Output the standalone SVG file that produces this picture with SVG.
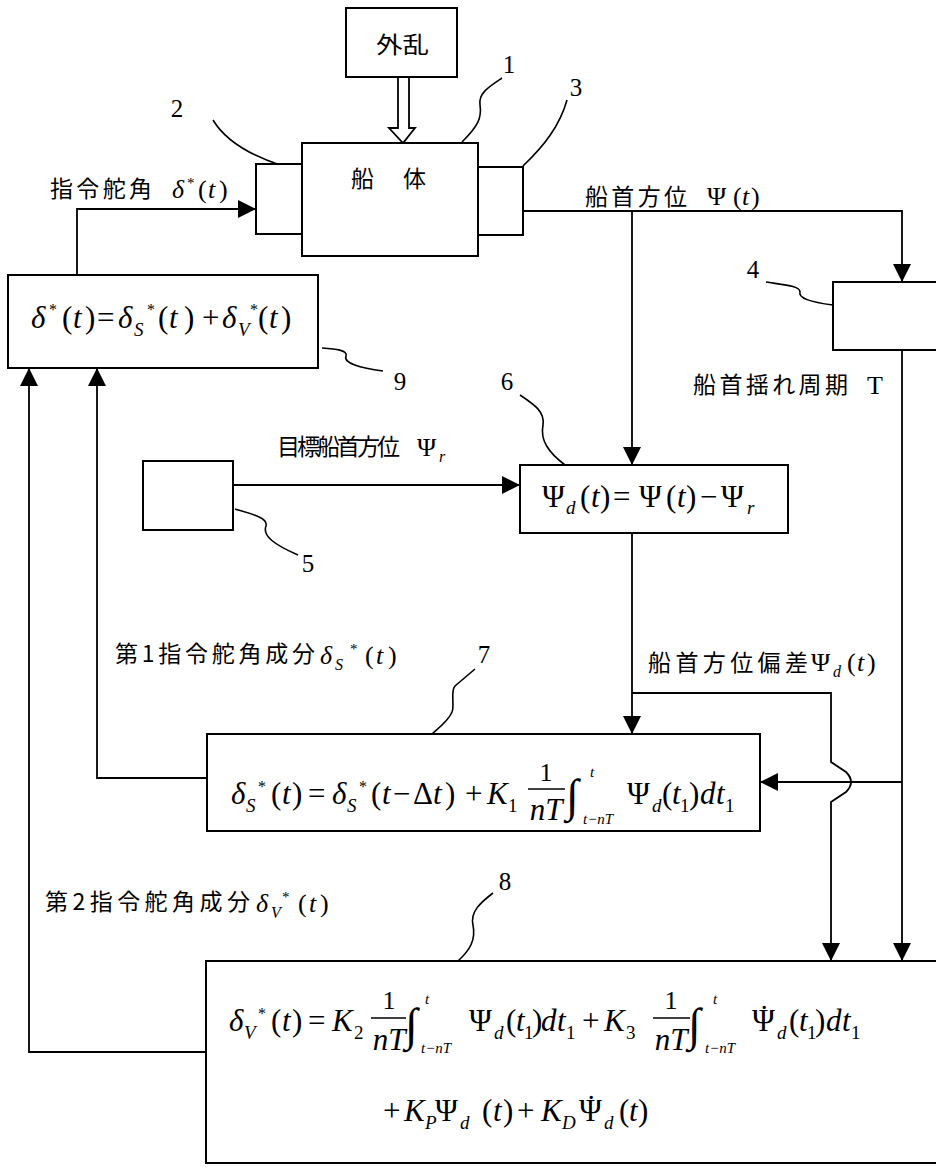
<svg xmlns="http://www.w3.org/2000/svg" width="936" height="1168" viewBox="0 0 936 1168">
<style>
.bx{fill:#fff;stroke:#000;stroke-width:2}
.ln{fill:none;stroke:#000;stroke-width:1.8}
.ld{fill:none;stroke:#000;stroke-width:1.6}
.j{font-family:"Noto Sans CJK JP","Noto Sans CJK SC",sans-serif;font-size:23px;fill:#000}
.n{font-family:"Liberation Serif",serif;font-size:25px;fill:#000;text-anchor:middle}
.m{font-family:"Liberation Serif",serif;font-size:31px;fill:#000}
.l{font-family:"Liberation Serif",serif;font-size:26px;fill:#000}
.i{font-style:italic}
.s{font-size:19px}
.u{font-size:16px}
.v{font-size:15px}
.ig{font-family:"Liberation Serif",serif;font-size:46px;fill:#000}
</style>
<defs>
<marker id="ah" viewBox="0 0 18 18" refX="18" refY="9" markerWidth="18" markerHeight="18" orient="auto" markerUnits="userSpaceOnUse"><path d="M0,0 L18,9 L0,18 z" fill="#000"/></marker>
</defs>

<g id="connectors">
<path class="ln" d="M77,275 L77,209 L256,209" marker-end="url(#ah)"/>
<path class="ln" d="M523,211 L902,211 L902,282" marker-end="url(#ah)"/>
<path class="ln" d="M632,211 L632,465" marker-end="url(#ah)"/>
<path class="ln" d="M233,485 L520,485" marker-end="url(#ah)"/>
<path class="ln" d="M632,533 L632,734" marker-end="url(#ah)"/>
<path class="ln" d="M632,693 L831,693 L831,762 L846,772 Q856,782 846,792 L831,802 L831,961" marker-end="url(#ah)"/>
<path class="ln" d="M902,350 L902,961" marker-end="url(#ah)"/>
<path class="ln" d="M902,782 L760,782" marker-end="url(#ah)"/>
<path class="ln" d="M207,778 L97,778 L97,368" marker-end="url(#ah)"/>
<path class="ln" d="M206,1052 L29,1052 L29,368" marker-end="url(#ah)"/>
<path d="M398,77 L398,128 L389,128 L403,143 L415,128 L409,128 L409,77" fill="#fff" stroke="#000" stroke-width="1.8"/>
</g>

<g id="leaders">
<path class="ld" d="M502,78 C490,86 478,93 480,105 C482,118 478,126 462,142"/>
<path class="ld" d="M213,120 C225,140 250,155 280,165"/>
<path class="ld" d="M567,100 C560,125 545,145 523,166"/>
<path class="ld" d="M766,282 C785,285 800,286 800,292 C798,298 810,302 833,305"/>
<path class="ld" d="M235,509 C255,515 268,518 266,526 C262,536 275,545 298,555"/>
<path class="ld" d="M520,395 C535,405 545,412 543,425 C540,440 548,452 565,465"/>
<path class="ld" d="M475,669 L455,686 C450,692 455,705 452,712 C449,720 440,727 432,734"/>
<path class="ld" d="M493,893 C480,903 470,912 473,925 C476,940 470,950 458,961"/>
<path class="ld" d="M322,348 C335,349 348,350 346,356 C343,363 360,368 383,371"/>
</g>

<g id="n-disturbance">
<rect class="bx" x="346" y="8" width="111" height="69"/>
<text class="j" x="376" y="53" font-size="25" textLength="53" lengthAdjust="spacingAndGlyphs">外乱</text>
</g>

<g id="n1-hull">
<rect class="bx" x="302" y="143" width="176" height="113"/>
<text class="j" x="351" y="187" font-size="25">船</text>
<text class="j" x="403" y="187" font-size="25">体</text>
<text class="n" x="509" y="73">1</text>
</g>

<g id="n2">
<rect class="bx" x="256" y="164" width="46" height="70"/>
<text class="n" x="177" y="117">2</text>
</g>

<g id="n3">
<rect class="bx" x="478" y="167" width="45" height="68"/>
<text class="n" x="576" y="96">3</text>
</g>

<g id="n4">
<rect class="bx" x="833" y="282" width="120" height="68"/>
<text class="n" x="753" y="278">4</text>
</g>

<g id="n5">
<rect class="bx" x="143" y="461" width="90" height="69"/>
<text class="n" x="308" y="572">5</text>
</g>

<g id="n6">
<rect class="bx" x="520" y="465" width="268" height="68"/>
<text class="n" x="507" y="390">6</text>
<text class="m" y="507"><tspan x="542">Ψ</tspan><tspan x="566" y="514" class="i s">d</tspan><tspan x="580" y="507">(</tspan><tspan x="591" class="i">t</tspan><tspan x="600">)</tspan><tspan x="613">=</tspan><tspan x="639">Ψ</tspan><tspan x="666">(</tspan><tspan x="677" class="i">t</tspan><tspan x="686">)</tspan><tspan x="700">−</tspan><tspan x="721">Ψ</tspan><tspan x="747" y="514" class="i s">r</tspan></text>
</g>

<g id="n7">
<rect class="bx" x="207" y="734" width="553" height="97"/>
<text class="n" x="484" y="663">7</text>
<text class="m" y="804"><tspan x="231" class="i">δ</tspan><tspan x="246" y="812" class="i s">S</tspan><tspan x="258" y="792" class="u">*</tspan><tspan x="271" y="804">(</tspan><tspan x="282" class="i">t</tspan><tspan x="292">)</tspan><tspan x="308">=</tspan><tspan x="332" class="i">δ</tspan><tspan x="347" y="812" class="i s">S</tspan><tspan x="359" y="792" class="u">*</tspan><tspan x="371" y="804">(</tspan><tspan x="382" class="i">t</tspan><tspan x="393">−</tspan><tspan x="413">Δ</tspan><tspan x="433" class="i">t</tspan><tspan x="445">)</tspan><tspan x="465">+</tspan><tspan x="487" class="i">K</tspan><tspan x="508" y="812" class="s">1</tspan></text>
<text class="l" x="546" y="781" text-anchor="middle">1</text>
<line x1="528" y1="789" x2="565" y2="789" stroke="#000" stroke-width="1.5"/>
<text class="m i" x="546" y="820" text-anchor="middle">nT</text>
<text class="ig" x="566" y="811">∫</text>
<text class="l i v" x="590" y="777">t</text>
<text class="l i v" x="583" y="824">t−nT</text>
<text class="m" y="804"><tspan x="627">Ψ</tspan><tspan x="652" y="812" class="i s">d</tspan><tspan x="662" y="804">(</tspan><tspan x="672" class="i">t</tspan><tspan x="680" y="812" class="s">1</tspan><tspan x="689" y="804">)</tspan><tspan x="700" class="i">d</tspan><tspan x="716" class="i">t</tspan><tspan x="725" y="812" class="s">1</tspan></text>
</g>

<g id="n8">
<rect class="bx" x="206" y="961" width="750" height="202"/>
<text class="n" x="505" y="890">8</text>
<text class="m" y="1031"><tspan x="229" class="i">δ</tspan><tspan x="244" y="1039" class="i s">V</tspan><tspan x="258" y="1019" class="u">*</tspan><tspan x="271" y="1031">(</tspan><tspan x="282" class="i">t</tspan><tspan x="292">)</tspan><tspan x="308">=</tspan><tspan x="332" class="i">K</tspan><tspan x="354" y="1039" class="s">2</tspan></text>
<text class="l" x="389" y="1009" text-anchor="middle">1</text>
<line x1="371" y1="1018" x2="406" y2="1018" stroke="#000" stroke-width="1.5"/>
<text class="m i" x="389" y="1050" text-anchor="middle">nT</text>
<text class="ig" x="405" y="1040">∫</text>
<text class="l i v" x="425" y="1004">t</text>
<text class="l i v" x="421" y="1053">t−nT</text>
<text class="m" y="1031"><tspan x="469">Ψ</tspan><tspan x="494" y="1039" class="i s">d</tspan><tspan x="506" y="1031">(</tspan><tspan x="516" class="i">t</tspan><tspan x="524" y="1039" class="s">1</tspan><tspan x="532" y="1031">)</tspan><tspan x="541" class="i">d</tspan><tspan x="557" class="i">t</tspan><tspan x="566" y="1039" class="s">1</tspan><tspan x="582" y="1031">+</tspan><tspan x="604" class="i">K</tspan><tspan x="626" y="1039" class="s">3</tspan></text>
<text class="l" x="671" y="1009" text-anchor="middle">1</text>
<line x1="653" y1="1018" x2="690" y2="1018" stroke="#000" stroke-width="1.5"/>
<text class="m i" x="671" y="1050" text-anchor="middle">nT</text>
<text class="ig" x="688" y="1040">∫</text>
<text class="l i v" x="713" y="1004">t</text>
<text class="l i v" x="705" y="1053">t−nT</text>
<text class="m" y="1031"><tspan x="752">Ψ</tspan><tspan x="759" y="1027">˙</tspan><tspan x="777" y="1039" class="i s">d</tspan><tspan x="789" y="1031">(</tspan><tspan x="799" class="i">t</tspan><tspan x="807" y="1039" class="s">1</tspan><tspan x="815" y="1031">)</tspan><tspan x="826" class="i">d</tspan><tspan x="842" class="i">t</tspan><tspan x="851" y="1039" class="s">1</tspan></text>
<text class="m" y="1121"><tspan x="383">+</tspan><tspan x="404" class="i">K</tspan><tspan x="425" y="1129" class="i s">P</tspan><tspan x="435" y="1121">Ψ</tspan><tspan x="460" y="1129" class="i s">d</tspan><tspan x="482" y="1121">(</tspan><tspan x="493" class="i">t</tspan><tspan x="503">)</tspan><tspan x="517">+</tspan><tspan x="541" class="i">K</tspan><tspan x="562" y="1129" class="i s">D</tspan><tspan x="579" y="1121">Ψ</tspan><tspan x="586" y="1117">˙</tspan><tspan x="604" y="1129" class="i s">d</tspan><tspan x="619" y="1121">(</tspan><tspan x="629" class="i">t</tspan><tspan x="638">)</tspan></text>
</g>

<g id="n9">
<rect class="bx" x="8" y="275" width="310" height="93"/>
<text class="n" x="400" y="390">9</text>
<text class="m" y="328"><tspan x="31" class="i">δ</tspan><tspan x="49" y="315" class="u">*</tspan><tspan x="62" y="328">(</tspan><tspan x="73" class="i">t</tspan><tspan x="85">)</tspan><tspan x="97">=</tspan><tspan x="118" class="i">δ</tspan><tspan x="134" y="336" class="i s">S</tspan><tspan x="147" y="315" class="u">*</tspan><tspan x="158" y="328">(</tspan><tspan x="169" class="i">t</tspan><tspan x="184">)</tspan><tspan x="202">+</tspan><tspan x="222" class="i">δ</tspan><tspan x="238" y="336" class="i s">V</tspan><tspan x="250" y="315" class="u">*</tspan><tspan x="258" y="328">(</tspan><tspan x="269" class="i">t</tspan><tspan x="281">)</tspan></text>
</g>

<g id="labels">
<text class="j" x="50" y="197" textLength="102" lengthAdjust="spacing">指令舵角</text>
<text class="l" y="198"><tspan x="172" class="i">δ</tspan><tspan x="187" y="188" class="v">*</tspan><tspan x="198" y="198">(</tspan><tspan x="208" class="i">t</tspan><tspan x="219">)</tspan></text>
<text class="j" x="585" y="205" textLength="102" lengthAdjust="spacing">船首方位</text>
<text class="l" y="205"><tspan x="707">Ψ</tspan><tspan x="733">(</tspan><tspan x="742" class="i">t</tspan><tspan x="751">)</tspan></text>
<text class="j" x="277" y="455" textLength="123" lengthAdjust="spacing">目標船首方位</text>
<text class="l" y="456"><tspan x="417">Ψ</tspan><tspan x="439" y="462" class="i u">r</tspan></text>
<text class="j" x="693" y="393" textLength="155" lengthAdjust="spacing">船首揺れ周期</text>
<text class="l" x="867" y="394">T</text>
<text class="j" x="648" y="671" textLength="160" lengthAdjust="spacing">船首方位偏差</text>
<text class="l" y="671"><tspan x="811">Ψ</tspan><tspan x="833" y="677" class="i u">d</tspan><tspan x="847" y="671">(</tspan><tspan x="857" class="i">t</tspan><tspan x="867">)</tspan></text>
<text class="j" x="115" y="662" textLength="200" lengthAdjust="spacing">第1指令舵角成分</text>
<text class="l" y="664"><tspan x="320" class="i">δ</tspan><tspan x="335" y="670" class="i u">S</tspan><tspan x="350" y="654" class="v">*</tspan><tspan x="365" y="664">(</tspan><tspan x="376" class="i">t</tspan><tspan x="388">)</tspan></text>
<text class="j" x="45" y="910" textLength="205" lengthAdjust="spacing">第2指令舵角成分</text>
<text class="l" y="912"><tspan x="256" class="i">δ</tspan><tspan x="271" y="918" class="i u">V</tspan><tspan x="282" y="902" class="v">*</tspan><tspan x="298" y="912">(</tspan><tspan x="309" class="i">t</tspan><tspan x="320">)</tspan></text>
</g>
</svg>
